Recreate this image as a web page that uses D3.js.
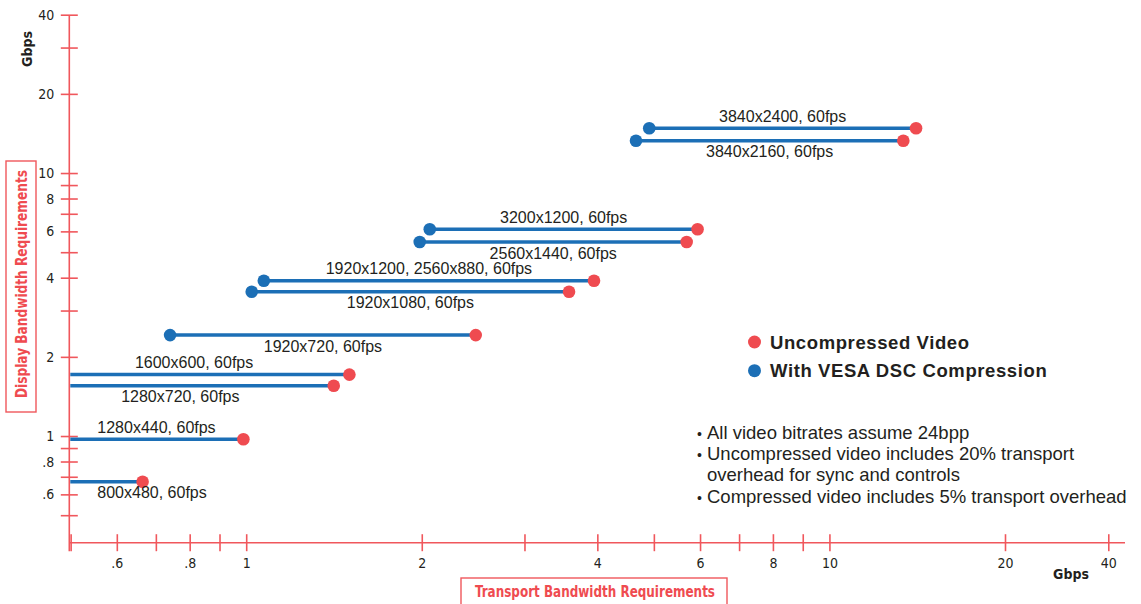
<!DOCTYPE html>
<html>
<script src="https://d3js.org/d3.v7.min.js"></script>

<head>
    <style>
        body {
            margin: 0;
            background-color: #ffffff;
        }

        svg {
            display: block;
        }

        .narrow {
            font-family: "Liberation Sans Narrow", "DejaVu Sans Condensed", "Roboto Condensed", sans-serif;
        }

        .body-text {
            font-family: "Liberation Sans", Arial, sans-serif;
            fill: #231f20;
        }
    </style>
</head>

<body>
    <div id="vis"></div>
</body>
<script>
    // resolutions, display bandwidth (Gbps) and transport bandwidth with / without DSC (Gbps)
    const resolutions = ["3840x2400, 60fps", "3840x2160, 60fps", "3200x1200, 60fps", "2560x1440, 60fps",
        "1920x1200, 2560x880, 60fps", "1920x1080, 60fps", "1920x720, 60fps", "1600x600, 60fps",
        "1280x720, 60fps", "1280x440, 60fps", "800x480, 60fps"];
    const displayBandwidth = [14.86, 13.33, 6.14, 5.49, 3.91, 3.55, 2.43, 1.72, 1.56, 0.976, 0.673];
    const compressedTransport = [4.90, 4.65, 2.06, 1.98, 1.07, 1.02, 0.739, 0.44, 0.42, 0.30, 0.20];
    const uncompressedTransport = [14.05, 13.36, 5.93, 5.68, 3.94, 3.57, 2.47, 1.50, 1.41, 0.987, 0.663];
    const labelSide = ["above", "below", "above", "below", "above", "below", "below", "above", "below", "above", "below"];

    const xTicks = [0.5, 0.6, 0.7, 0.8, 0.9, 1, 2, 3, 4, 5, 6, 7, 8, 9, 10, 20, 40];
    const xTickLabels = {0.6: ".6", 0.8: ".8", 1: "1", 2: "2", 4: "4", 6: "6", 8: "8", 10: "10", 20: "20", 40: "40"};
    const yTicks = [0.5, 0.6, 0.7, 0.8, 0.9, 1, 2, 3, 4, 5, 6, 7, 8, 9, 10, 20, 30, 40];
    const yTickLabels = {0.6: ".6", 0.8: ".8", 1: "1", 2: "2", 4: "4", 6: "6", 8: "8", 10: "10", 20: "20", 40: "40"};

    const legendItems = ["Uncompressed Video", "With VESA DSC Compression"];
    const notes = [
        ["\u2022", "All video bitrates assume 24bpp"],
        ["\u2022", "Uncompressed video includes 20% transport"],
        ["", "overhead for sync and controls"],
        ["\u2022", "Compressed video includes 5% transport overhead"]
    ];

    const width = 1141,
        height = 604;
    const RED = "#ef4b50",
        AXIS_RED = "#f0575c",
        BLUE = "#1c6fb6",
        INK = "#231f20";

    const svg = d3.select("#vis").append("svg").attr("width", width).attr("height", height);

    // the last stretch of the original x axis (20 -> 40) is squeezed, hence the piecewise log scale
    const x = d3.scaleLog().domain([0.4964, 20, 44.6]).range([69.3, 1005.5, 1125]);
    const y = d3.scaleLog().domain([0.3947, 40]).range([542.7, 15.2]);

    const data = resolutions.map((name, i) => ({
        name: name,
        display: displayBandwidth[i],
        dsc: compressedTransport[i],
        raw: uncompressedTransport[i],
        side: labelSide[i]
    }));

    function drawAxes() {
        const x0 = x.range()[0], y0 = y.range()[0];
        const axes = svg.append("g").attr("stroke", AXIS_RED).attr("stroke-width", 1.6);
        axes.append("line").attr("x1", x0).attr("x2", x0).attr("y1", y(40)).attr("y2", y0 + 8.5);
        axes.append("line").attr("x1", x0).attr("x2", x.range()[2]).attr("y1", y0).attr("y2", y0);
        axes.selectAll(".xtick")
            .data(xTicks)
            .join("line")
            .attr("class", "xtick")
            .attr("x1", d => x(d)).attr("x2", d => x(d))
            .attr("y1", y0 - 8.5).attr("y2", y0 + 8.5);
        axes.selectAll(".ytick")
            .data(yTicks)
            .join("line")
            .attr("class", "ytick")
            .attr("x1", x0 - 8.5).attr("x2", x0 + 8.5)
            .attr("y1", d => y(d)).attr("y2", d => y(d));

        svg.append("g").selectAll("text")
            .data(xTicks.filter(d => xTickLabels[d]))
            .join("text")
            .attr("class", "narrow")
            .attr("x", d => x(d))
            .attr("y", y0 + 25.5)
            .attr("text-anchor", "middle")
            .attr("font-size", 14)
            .attr("fill", INK)
            .text(d => xTickLabels[d]);
        svg.append("g").selectAll("text")
            .data(yTicks.filter(d => yTickLabels[d]))
            .join("text")
            .attr("class", "narrow")
            .attr("x", x0 - 15)
            .attr("y", d => y(d))
            .attr("dy", "0.33em")
            .attr("text-anchor", "end")
            .attr("font-size", 14)
            .attr("fill", INK)
            .text(d => yTickLabels[d]);

        // units
        svg.append("text")
            .attr("class", "narrow")
            .attr("transform", "translate(32,49) rotate(-90)")
            .attr("text-anchor", "middle")
            .attr("font-size", 14)
            .attr("font-weight", "bold")
            .attr("fill", INK)
            .text("Gbps");
        svg.append("text")
            .attr("class", "narrow")
            .attr("x", 1071)
            .attr("y", 579)
            .attr("text-anchor", "middle")
            .attr("font-size", 14)
            .attr("font-weight", "bold")
            .attr("fill", INK)
            .text("Gbps");

        // boxed axis titles, squeezed to the condensed width of the original lettering
        svg.append("rect")
            .attr("x", 6).attr("y", 161).attr("width", 30).attr("height", 251)
            .attr("fill", "none").attr("stroke", AXIS_RED).attr("stroke-width", 1.4);
        svg.append("text")
            .attr("class", "narrow")
            .attr("transform", "translate(27,284) rotate(-90)")
            .attr("text-anchor", "middle")
            .attr("font-size", 15)
            .attr("font-weight", "bold")
            .attr("fill", RED)
            .attr("textLength", 228)
            .attr("lengthAdjust", "spacingAndGlyphs")
            .text("Display Bandwidth Requirements");
        svg.append("rect")
            .attr("x", 461).attr("y", 578).attr("width", 266).attr("height", 40)
            .attr("fill", "none").attr("stroke", AXIS_RED).attr("stroke-width", 1.4);
        svg.append("text")
            .attr("class", "narrow")
            .attr("x", 595)
            .attr("y", 597)
            .attr("text-anchor", "middle")
            .attr("font-size", 15)
            .attr("font-weight", "bold")
            .attr("fill", RED)
            .attr("textLength", 240)
            .attr("lengthAdjust", "spacingAndGlyphs")
            .text("Transport Bandwidth Requirements");
    }

    function drawBars() {
        const xMin = x.range()[0];
        const g = svg.append("g");
        g.selectAll(".span")
            .data(data)
            .join("line")
            .attr("class", "span")
            .attr("x1", d => Math.max(x(d.dsc), xMin + 1))
            .attr("x2", d => x(d.raw))
            .attr("y1", d => y(d.display))
            .attr("y2", d => y(d.display))
            .attr("stroke", BLUE)
            .attr("stroke-width", 3.5);
        g.selectAll(".dsc")
            .data(data.filter(d => x(d.dsc) > xMin))
            .join("circle")
            .attr("class", "dsc")
            .attr("cx", d => x(d.dsc))
            .attr("cy", d => y(d.display))
            .attr("r", 6.3)
            .attr("fill", BLUE);
        g.selectAll(".raw")
            .data(data)
            .join("circle")
            .attr("class", "raw")
            .attr("cx", d => x(d.raw))
            .attr("cy", d => y(d.display))
            .attr("r", 6.3)
            .attr("fill", RED);
        const labels = g.selectAll(".label")
            .data(data)
            .join("text")
            .attr("class", "label body-text")
            .attr("font-size", 16)
            .attr("text-anchor", "middle")
            .attr("y", d => y(d.display) + (d.side === "above" ? -6.5 : 16.5))
            .text(d => d.name);
        // centre each label on its span, but keep it clear of the y axis
        labels.attr("x", function (d) {
            const half = this.getComputedTextLength() / 2;
            const mid = (x(d.dsc) + x(d.raw)) / 2;
            return Math.max(mid, xMin + 28 + half);
        });
    }

    function drawLegend() {
        const legend = svg.append("g");
        legend.selectAll("circle")
            .data(legendItems)
            .join("circle")
            .attr("cx", 754.5)
            .attr("cy", (d, i) => 342 + i * 28.7)
            .attr("r", 6.5)
            .attr("fill", (d, i) => i === 0 ? RED : BLUE);
        legend.selectAll("text")
            .data(legendItems)
            .join("text")
            .attr("class", "body-text")
            .attr("x", 770)
            .attr("y", (d, i) => 348.5 + i * 28.7)
            .attr("font-size", 18.5)
            .attr("font-weight", "bold")
            .attr("letter-spacing", 0.6)
            .text(d => d);

        const notesG = svg.append("g");
        notesG.selectAll(".bullet")
            .data(notes)
            .join("text")
            .attr("class", "bullet body-text")
            .attr("x", 697)
            .attr("y", (d, i) => 438.5 + i * 21.4)
            .attr("font-size", 14)
            .text(d => d[0]);
        notesG.selectAll(".note")
            .data(notes)
            .join("text")
            .attr("class", "note body-text")
            .attr("x", 707)
            .attr("y", (d, i) => 438.5 + i * 21.4)
            .attr("font-size", 18.5)
            .text(d => d[1]);
    }

    drawAxes();
    drawBars();
    drawLegend();
</script>

</html>
